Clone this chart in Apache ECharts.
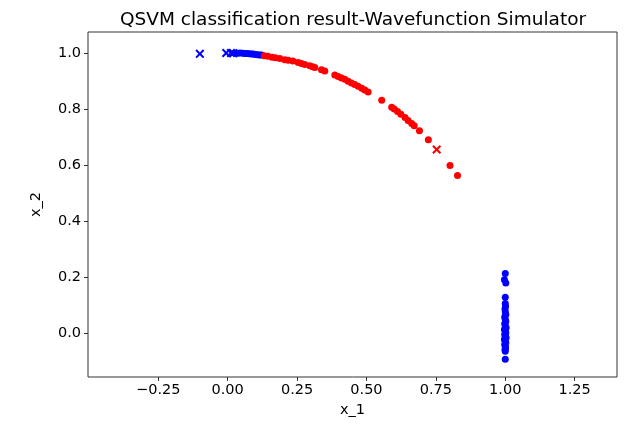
<!DOCTYPE html>
<html>
<head>
<meta charset="utf-8">
<script src="https://cdn.jsdelivr.net/npm/echarts@6/dist/echarts.min.js"></script>
<style>html,body{margin:0;padding:0;background:#fff;}#c{width:628px;height:429px;}</style>
</head>
<body>
<div id="c"></div>
<script>
// ---- data ----
const titleText = "QSVM classification result-Wavefunction Simulator";
const xTicks = [-0.25, 0.0, 0.25, 0.5, 0.75, 1.0, 1.25];
const yTicks = [0.0, 0.2, 0.4, 0.6, 0.8, 1.0];

// predicted class A (blue dots)
const blueDots = [
  [0.036,0.999],[0.045,1.0],[0.055,0.999],[0.062,0.998],[0.07,0.998],[0.078,0.997],[0.085,0.996],
  [0.092,0.996],[0.1,0.995],[0.108,0.994],[0.115,0.993],[0.122,0.993],
  [1.0,0.212],[0.997,0.19],[1.002,0.178],[1.0,0.127],[1.0,0.105],[1.001,0.095],[0.999,0.085],
  [1.0,0.075],[1.002,0.065],[0.998,0.056],[1.0,0.048],[1.002,0.04],[0.998,0.032],[1.0,0.025],
  [1.003,0.018],[0.997,0.012],[1.0,0.006],[1.002,0.0],[0.998,-0.006],[1.0,-0.012],[1.003,-0.018],
  [0.997,-0.024],[1.0,-0.03],[1.002,-0.036],[0.998,-0.042],[1.0,-0.048],[1.001,-0.054],
  [0.999,-0.06],[1.0,-0.066],[1.0,-0.095]
];
// predicted class B (red dots)
const redDots = [
  [0.132,0.990],[0.145,0.988],[0.160,0.985],[0.172,0.983],[0.188,0.980],[0.206,0.976],[0.218,0.974],
  [0.235,0.971],[0.254,0.966],[0.266,0.962],[0.278,0.959],[0.296,0.954],[0.306,0.951],[0.314,0.948],
  [0.338,0.940],[0.350,0.936],[0.386,0.921],[0.398,0.916],[0.410,0.911],[0.422,0.906],[0.434,0.899],
  [0.446,0.893],[0.458,0.887],[0.470,0.881],[0.483,0.874],[0.494,0.868],[0.506,0.861],[0.555,0.831],
  [0.591,0.806],[0.600,0.800],[0.612,0.791],[0.624,0.781],[0.639,0.769],[0.650,0.759],[0.663,0.748],
  [0.672,0.740],[0.691,0.722],[0.723,0.690],[0.801,0.598],[0.828,0.562]
];
// support vectors / training markers (x)
const blueCross = [[-0.1,0.997],[-0.005,1.0],[0.012,1.0],[0.02,0.999]];
const redCross = [[0.753,0.655]];

// ---- chart ----
const crossPath = 'path://M0,1.6 L1.6,0 L5,3.4 L8.4,0 L10,1.6 L6.6,5 L10,8.4 L8.4,10 L5,6.6 L1.6,10 L0,8.4 L3.4,5 Z';
const chart = echarts.init(document.getElementById('c'), null, {renderer: 'canvas'});
const axisFont = {fontFamily: 'DejaVu Sans', fontSize: 14.5, color: '#000'};
chart.setOption({
  animation: false,
  backgroundColor: '#fff',
  title: {
    text: titleText, left: 348, top: 6, textAlign: 'center',
    textStyle: {fontFamily: 'DejaVu Sans', fontSize: 18.5, fontWeight: 'normal', color: '#000'}
  },
  grid: {left: 88, right: 11, top: 32, bottom: 52, show: true, borderColor: '#333', borderWidth: 1},
  xAxis: {
    type: 'value', min: -0.503, max: 1.4025,
    name: 'x_1', nameLocation: 'middle', nameGap: 25,
    nameTextStyle: {fontFamily: 'DejaVu Sans', fontSize: 14.5, color: '#000', verticalAlign: 'top'},
    axisLine: {show: false, onZero: false},
    splitLine: {show: false},
    axisTick: {show: true, inside: false, length: 4, lineStyle: {color: '#333'}, customValues: xTicks},
    axisLabel: {show: true, margin: 6, customValues: xTicks, ...axisFont,
      formatter: v => (v < 0 ? '\u2212' : '') + Math.abs(v).toFixed(2)}
  },
  yAxis: {
    type: 'value', min: -0.158, max: 1.075,
    name: 'x_2', nameLocation: 'middle', nameGap: 44, nameRotate: 90,
    nameTextStyle: {fontFamily: 'DejaVu Sans', fontSize: 14.5, color: '#000'},
    axisLine: {show: false, onZero: false},
    splitLine: {show: false},
    axisTick: {show: true, inside: false, length: 4, lineStyle: {color: '#333'}, customValues: yTicks},
    axisLabel: {show: true, margin: 7, customValues: yTicks, ...axisFont,
      formatter: v => (v < 0 ? '\u2212' : '') + Math.abs(v).toFixed(1)}
  },
  series: [
    {type: 'scatter', data: blueDots, symbol: 'circle', symbolSize: 7, itemStyle: {color: '#0000ff', opacity: 1}},
    {type: 'scatter', data: redDots, symbol: 'circle', symbolSize: 7, itemStyle: {color: '#ff0000', opacity: 1}},
    {type: 'scatter', data: blueCross, symbol: crossPath, symbolSize: 9, itemStyle: {color: '#0000ff', opacity: 1}},
    {type: 'scatter', data: redCross, symbol: crossPath, symbolSize: 9, itemStyle: {color: '#ff0000', opacity: 1}}
  ]
});
</script>
</body>
</html>
